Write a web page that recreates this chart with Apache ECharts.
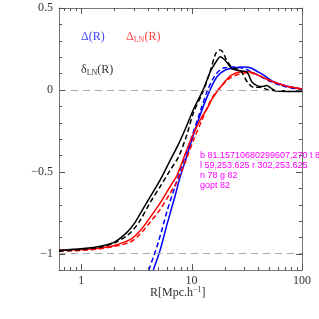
<!DOCTYPE html>
<html>
<head>
<meta charset="utf-8">
<script src="https://cdn.jsdelivr.net/npm/echarts@6/dist/echarts.min.js"></script>
<style>html,body{margin:0;padding:0;background:#fff}#c{width:319px;height:319px}#d{position:absolute;left:200px;top:150px;font:9px sans-serif;color:#f0f;white-space:pre}</style>
</head>
<body>
<div id="c"></div><div id="d"></div>
<script>
var dbg = [];
window.onerror = function (m) { dbg.push('WERR ' + m); document.getElementById('d').textContent = dbg.join('\n'); };
// ---- data ----
var blackSolidR = [0.63,0.8,1.0,1.3,1.5,2.0,2.6,3.0,3.4,4.2,5.2,6.4,7.5,8.7,10.4,12.7,15,17,18.1,19.5,21,23,26,29,31.6,33,35,38,41.8,45,48,52,57,65,80,100];
var blackSolidV = [-0.98,-0.975,-0.97,-0.962,-0.955,-0.93,-0.87,-0.82,-0.76,-0.655,-0.55,-0.43,-0.34,-0.245,-0.12,0.0,0.12,0.18,0.203,0.19,0.165,0.13,0.12,0.115,0.11,0.09,0.05,0.03,0.02,0.022,0.026,0.012,-0.005,-0.008,-0.01,-0.01];
var blackDashR = [0.63,1,1.5,2,2.6,3.0,3.4,4.2,5.2,6.4,7.6,9,10.4,12.7,15,16.5,17.9,19,20.8,23,25,27.5,30,32.6,36.3,41.8,45,50,60,100];
var blackDashV = [-0.985,-0.975,-0.96,-0.935,-0.89,-0.85,-0.80,-0.69,-0.59,-0.49,-0.41,-0.28,-0.14,-0.01,0.13,0.22,0.244,0.235,0.18,0.14,0.13,0.12,0.08,0.04,0.016,0.016,0.01,0.0,-0.005,-0.005];
var blueSolidR = [4.5,5.19,6,7,7.9,9,10,12,14.7,17,20,25,30,34,40,45,55,72,100];
var blueSolidV = [-1.1,-0.978,-0.82,-0.66,-0.53,-0.41,-0.31,-0.15,0.0,0.08,0.12,0.135,0.14,0.135,0.11,0.09,0.05,0.024,0.005];
var blueDashR = [4.1,5,6,7,8,9,10,12,14,16,18,20,25,30,35,40,50,70,100];
var blueDashV = [-1.1,-0.93,-0.74,-0.6,-0.48,-0.38,-0.29,-0.13,0.0,0.08,0.12,0.135,0.14,0.13,0.11,0.09,0.055,0.02,0.003];
var redSolidR = [0.63,1,1.5,2,2.77,3.42,4.2,5.2,6.4,7.4,9,10.5,12.5,13.7,15.5,17.5,20,23,28.5,33,40,50,60,75,100];
var redSolidV = [-0.98,-0.975,-0.965,-0.95,-0.915,-0.86,-0.78,-0.69,-0.59,-0.52,-0.37,-0.26,-0.16,-0.12,-0.05,0.0,0.05,0.09,0.11,0.11,0.09,0.06,0.04,0.02,0.005];
var redDashR = [0.63,1,1.5,2,2.77,3.42,4.2,5.2,6.4,7.4,9,10.5,12.5,14,16,18.5,22,28,33,40,50,60,75,100];
var redDashV = [-0.985,-0.98,-0.97,-0.955,-0.93,-0.88,-0.81,-0.73,-0.63,-0.56,-0.42,-0.3,-0.18,-0.1,-0.03,0.02,0.07,0.1,0.105,0.09,0.06,0.04,0.02,0.005];

var xMajor = [1, 10, 100];
var xMinor = [0.7,0.8,0.9,2,3,4,5,6,7,8,9,20,30,40,50,60,70,80,90];
var yMajor = [-1, -0.5, 0, 0.5];
var yMinor = [-1.1,-0.9,-0.8,-0.7,-0.6,-0.4,-0.3,-0.2,-0.1,0.1,0.2,0.3,0.4];
var refLines = [0, -1];

var X_MIN = 0.63, X_MAX = 100, Y_MIN = -1.1, Y_MAX = 0.5;
var GRID_W = 243, GRID_H = 262;

function zip(a, b) { return a.map(function (v, i) { return [v, b[i]]; }); }
var axisColor = '#777';
var fontFam = '"Liberation Serif","DejaVu Serif",serif';

function xAx(pos, labels) {
  return { type: 'log', logBase: 10, min: X_MIN, max: X_MAX, position: pos, gridIndex: 0,
    axisLine: { show: true, onZero: false, lineStyle: { color: axisColor, width: 1 } },
    axisTick: { show: false },
    axisLabel: labels ? { show: true, customValues: xMajor, color: '#333', fontFamily: fontFam, fontSize: 12, margin: 5 } : { show: false },
    splitLine: { show: false } };
}
function yAx(pos, labels) {
  return { type: 'value', min: Y_MIN, max: Y_MAX, position: pos, gridIndex: 0,
    axisLine: { show: true, onZero: false, lineStyle: { color: axisColor, width: 1 } },
    axisTick: { show: false },
    axisLabel: labels ? { show: true, customValues: yMajor, color: '#333', fontFamily: fontFam, fontSize: 12, margin: 6,
      formatter: function (v) { return v < 0 ? '\u2212' + Math.abs(v) : String(v); } } : { show: false },
    splitLine: { show: false } };
}
function line(R, V, color, dashed) {
  return { type: 'line', xAxisIndex: 0, yAxisIndex: 0, data: zip(R, V), showSymbol: false, smooth: 0.3,
    lineStyle: { color: color, width: 1.5, type: dashed ? [5, 3] : 'solid' }, clip: true, silent: true, animation: false };
}

var chart = echarts.init(document.getElementById('c'), null, { renderer: 'canvas' });
var series = [
  line(blueSolidR, blueSolidV, '#0000ff', false),
  line(blueDashR, blueDashV, '#0000ff', true),
  line(redSolidR, redSolidV, '#ff0000', false),
  line(redDashR, redDashV, '#ff0000', true),
  line(blackSolidR, blackSolidV, '#000000', false),
  line(blackDashR, blackDashV, '#000000', true)
];
series[0].markLine = { silent: true, symbol: ['none', 'none'], label: { show: false },
  lineStyle: { color: '#aaaaaa', type: [7, 5], width: 1 },
  data: refLines.map(function (v) { return { yAxis: v }; }), animation: false };
chart.setOption({
  animation: false,
  grid: { left: 59, top: 8, width: GRID_W, height: GRID_H, containLabel: false },
  xAxis: [xAx('bottom', true), xAx('top', false)],
  yAxis: [yAx('left', true), yAx('right', false)],
  series: series
});

var graphics = [
  { type: 'text', left: 81, top: 31, style: { text: '\u0394(R)', fill: '#4444ff', font: '12px ' + fontFam } },
  { type: 'text', left: 126, top: 31, style: { text: '\u0394{s|LN}(R)', fill: '#ff4444', font: '12px ' + fontFam,
    rich: { s: { fontSize: 8, verticalAlign: 'bottom', padding: [6, 0, 0, 0], fill: '#ff4444', fontFamily: fontFam } } } },
  { type: 'text', left: 81, top: 64, style: { text: '\u03b4{s|LN}(R)', fill: '#333333', font: '12px ' + fontFam,
    rich: { s: { fontSize: 8, verticalAlign: 'bottom', padding: [6, 0, 0, 0], fill: '#333333', fontFamily: fontFam } } } },
  { type: 'text', left: 150, top: 286, style: { text: 'R[Mpc.h{p|\u22121}]', fill: '#333', font: '12px ' + fontFam,
    rich: { p: { fontSize: 8, verticalAlign: 'top', padding: [0, 0, 5, 0], fill: '#333', fontFamily: fontFam } } } }
];
try {
  function px(x, y) { return chart.convertToPixel({ xAxisIndex: 0, yAxisIndex: 0 }, [x, y]); }
  var nT = 0;
  function tick(x1, y1, x2, y2) {
    nT++;
    graphics.push({ type: 'line', z: 100, shape: { x1: x1, y1: y1, x2: x2, y2: y2 },
      style: { stroke: '#555', lineWidth: 1 } });
  }
  xMajor.concat(xMinor).forEach(function (v, i) {
    var len = i < xMajor.length ? 6 : 3;
    var b = px(v, Y_MIN), t = px(v, Y_MAX);
    if (i === 0) dbg.push('b ' + b + ' t ' + t);
    var x = Math.round(b[0]) + 0.5;
    tick(x, b[1], x, b[1] - len);
    tick(x, t[1], x, t[1] + len);
  });
  yMajor.concat(yMinor).forEach(function (v, i) {
    var len = i < yMajor.length ? 6 : 3;
    var l = px(X_MIN, v), r = px(X_MAX, v);
    if (i === 0) dbg.push('l ' + l + ' r ' + r);
    var y = Math.round(l[1]) + 0.5;
    tick(l[0], y, l[0] + len, y);
    tick(r[0], y, r[0] - len, y);
  });
  dbg.push('n ' + nT + ' g ' + graphics.length);
  chart.setOption({ graphic: graphics });
  var opt = chart.getOption();
  dbg.push('gopt ' + (opt.graphic && opt.graphic[0] && opt.graphic[0].elements ? opt.graphic[0].elements.length : 'x'));
} catch (e) { dbg.push('ERR ' + e.message); }
document.getElementById('d').textContent = dbg.join('\n');
</script>
</body>
</html>
